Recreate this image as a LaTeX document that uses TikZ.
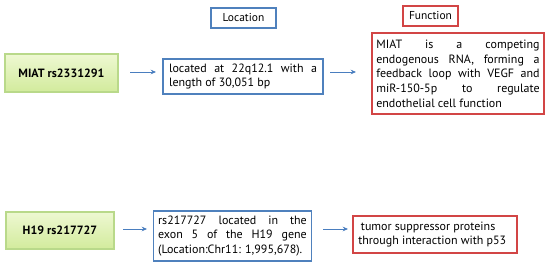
\documentclass[tikz,border=0pt]{standalone}
\usepackage{fontspec}
\setmainfont{PT Sans}
\usetikzlibrary{arrows.meta,shadows}
\definecolor{bbord}{HTML}{4F81BD}
\definecolor{rbord}{HTML}{D24545}
\definecolor{gtop}{HTML}{EEF8D2}
\definecolor{gbot}{HTML}{D2EB9C}
\definecolor{gbord}{HTML}{B9D98A}
\definecolor{arr}{HTML}{4A7EBF}
\tikzset{
  txt/.style={font=\fontsize{9}{11}\selectfont, inner sep=0pt, execute at begin node={\hyphenpenalty=10000\exhyphenpenalty=10000}},
  bluebox/.style={draw=bbord, line width=1.1pt},
  redbox/.style={draw=rbord, line width=1.1pt},
  greenbox/.style={draw=gbord, line width=0.9pt, top color=gtop, bottom color=gbot,
     drop shadow={shadow xshift=1pt, shadow yshift=-1pt, fill=black!25, opacity=0.5}},
  conn/.style={draw=arr, line width=0.6pt, -{Stealth[length=4pt,width=3.5pt]}},
}
\begin{document}
\begin{tikzpicture}[x=0.75pt,y=-0.75pt]
\useasboundingbox (0,0) rectangle (550,266);
% headers
\draw[bluebox] (211,8) rectangle (276,28);
\node[txt, font=\fontsize{8.6}{11}\selectfont] (loch) at (243.5,18) {Location};
\draw[redbox] (403,6) rectangle (458,26);
\node[txt, font=\fontsize{8.6}{11}\selectfont] (funh) at (430.5,16) {Function};
% row 1
\draw[greenbox] (5,54) rectangle (118,92);
\node[txt, font=\fontsize{9}{11}\selectfont\bfseries] (g1) at (61.5,73) {MIAT rs2331291};
\draw[bluebox] (163,59) rectangle (323,94);
\node[txt, text width=111pt, align=justify] (l1) at (243,76.5) {located at 22q12.1 with a\linebreak length of 30,051 bp};
\draw[redbox] (372,33) rectangle (544,114);
\node[txt, text width=122.5pt, align=justify] (f1) at (458,73.5) {MIAT is a competing\linebreak endogenous RNA, forming a\linebreak feedback loop with VEGF and\linebreak miR-150-5p to regulate\linebreak endothelial cell function};
\coordinate (a1s) at (130,72);
\coordinate (a1e) at (156,72);
\coordinate (a2s) at (330,72);
\coordinate (a2e) at (356,72);
\draw[conn] (a1s) -- (a1e);
\draw[conn] (a2s) -- (a2e);
% row 2
\draw[greenbox] (6,212) rectangle (114,249);
\node[txt, font=\fontsize{9}{11}\selectfont\bfseries] (g2) at (60,230.5) {H19 rs217727};
\draw[bluebox] (153.5,211) rectangle (311.5,261);
\node[txt, text width=111.5pt, align=justify] (l2) at (232.5,236) {rs217727 located in the\linebreak exon 5 of the H19 gene\linebreak (Location:Chr11: 1,995,678).};
\draw[redbox] (353,216) rectangle (517,253);
\node[txt, align=left, anchor=west] (f2) at (358,234.5) {\hspace{2pt}tumor suppressor proteins\\through interaction with p53};
\coordinate (b1s) at (123,229);
\coordinate (b1e) at (147,229);
\coordinate (b2s) at (323,229);
\coordinate (b2e) at (348,229);
\draw[conn] (b1s) -- (b1e);
\draw[conn] (b2s) -- (b2e);
\end{tikzpicture}
\end{document}
